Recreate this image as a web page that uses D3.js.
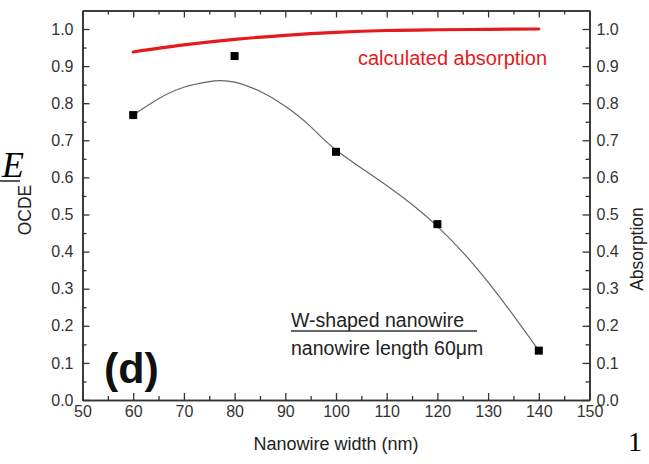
<!DOCTYPE html>
<html>
<head>
<meta charset="utf-8">
<script src="https://cdn.jsdelivr.net/npm/d3@7"></script>
<style>
  html, body { margin: 0; padding: 0; background: #fff; }
  svg { display: block; }
  text { font-family: "Liberation Sans", Arial, sans-serif; }
</style>
</head>
<body>
<script>
// Measured OCDE for each nanowire width (square markers)
const widths = [60, 80, 100, 120, 140];
const ocde = [0.768, 0.927, 0.669, 0.474, 0.133];

// Smooth fit through the OCDE points (thin gray curve)
const fitWidths = [60, 65, 70, 75, 77, 80, 85, 90, 95, 100, 110, 120, 130, 140];
const fitValues = [0.768, 0.812, 0.843, 0.858, 0.861, 0.857, 0.832, 0.792, 0.737, 0.674, 0.578, 0.468, 0.318, 0.133];

// Calculated absorption (right axis, red curve)
const absWidths = [60, 70, 80, 90, 100, 110, 120, 130, 140];
const absValues = [0.938, 0.957, 0.972, 0.983, 0.991, 0.996, 0.998, 0.999, 1.0];

// Tick values
const xTicks = [50, 60, 70, 80, 90, 100, 110, 120, 130, 140, 150];
const xMinor = [55, 65, 75, 85, 95, 105, 115, 125, 135, 145];
const yTicks = [0, 0.1, 0.2, 0.3, 0.4, 0.5, 0.6, 0.7, 0.8, 0.9, 1.0];
const yMinor = [0.05, 0.15, 0.25, 0.35, 0.45, 0.55, 0.65, 0.75, 0.85, 0.95];

const W = 649, H = 464;
const svg = d3.select("body").append("svg").attr("width", W).attr("height", H);

const x = d3.scaleLinear().domain([50, 150]).range([82.5, 589.5]);
const y = d3.scaleLinear().domain([0, 1.05]).range([400, 10.45]);
const yAbs = d3.scaleLinear().domain([0, 1.05]).range([400, 10.45]);

const axisColor = "#333";
const tickFont = "16px";
const fmt = d3.format(".1f");

function styleAxis(g) {
  g.selectAll("path.domain").attr("stroke", axisColor).attr("stroke-width", 1.6);
  g.selectAll(".tick line").attr("stroke", axisColor).attr("stroke-width", 1.3);
  g.selectAll(".tick text").attr("fill", "#333").style("font-size", tickFont)
    .style("font-family", "'Liberation Sans', Arial, sans-serif");
}

// Bottom axis: labels outside, ticks inward
const gB = svg.append("g").attr("transform", `translate(0,${y(0)})`)
  .call(d3.axisBottom(x).tickValues(xTicks).tickSizeInner(-7).tickSizeOuter(0).tickPadding(6).tickFormat(d3.format("d")));
styleAxis(gB);
const gBm = svg.append("g").attr("transform", `translate(0,${y(0)})`)
  .call(d3.axisBottom(x).tickValues(xMinor).tickSizeInner(-4).tickSizeOuter(0).tickFormat(""));
styleAxis(gBm);

// Top axis: ticks only
const gT = svg.append("g").attr("transform", `translate(0,${y.range()[1]})`)
  .call(d3.axisTop(x).tickValues(xTicks).tickSizeInner(-7).tickSizeOuter(0).tickFormat(""));
styleAxis(gT);
const gTm = svg.append("g").attr("transform", `translate(0,${y.range()[1]})`)
  .call(d3.axisTop(x).tickValues(xMinor).tickSizeInner(-4).tickSizeOuter(0).tickFormat(""));
styleAxis(gTm);

// Left axis (OCDE)
const gL = svg.append("g").attr("transform", `translate(${x(50)},0)`)
  .call(d3.axisLeft(y).tickValues(yTicks).tickSizeInner(-7).tickSizeOuter(0).tickPadding(9).tickFormat(fmt));
styleAxis(gL);
const gLm = svg.append("g").attr("transform", `translate(${x(50)},0)`)
  .call(d3.axisLeft(y).tickValues(yMinor).tickSizeInner(-4).tickSizeOuter(0).tickFormat(""));
styleAxis(gLm);

// Right axis (Absorption)
const gR = svg.append("g").attr("transform", `translate(${x(150)},0)`)
  .call(d3.axisRight(yAbs).tickValues(yTicks).tickSizeInner(-7).tickSizeOuter(0).tickPadding(7).tickFormat(fmt));
styleAxis(gR);
const gRm = svg.append("g").attr("transform", `translate(${x(150)},0)`)
  .call(d3.axisRight(yAbs).tickValues(yMinor).tickSizeInner(-4).tickSizeOuter(0).tickFormat(""));
styleAxis(gRm);

// Fitted OCDE curve
const fitLine = d3.line().x(d => x(d[0])).y(d => y(d[1])).curve(d3.curveNatural);
svg.append("path")
  .datum(fitWidths.map((w, i) => [w, fitValues[i]]))
  .attr("d", fitLine)
  .attr("fill", "none").attr("stroke", "#666").attr("stroke-width", 1.2);

// Calculated absorption
const absLine = d3.line().x(d => x(d[0])).y(d => yAbs(d[1])).curve(d3.curveCatmullRom.alpha(0.5));
svg.append("path")
  .datum(absWidths.map((w, i) => [w, absValues[i]]))
  .attr("d", absLine)
  .attr("fill", "none").attr("stroke", "#e41a1c").attr("stroke-width", 3.2)
  .attr("stroke-linecap", "round");

// Measured OCDE squares
const sq = 8;
svg.selectAll("rect.pt").data(widths.map((w, i) => [w, ocde[i]])).enter()
  .append("rect").attr("class", "pt")
  .attr("x", d => x(d[0]) - sq / 2).attr("y", d => y(d[1]) - sq / 2)
  .attr("width", sq).attr("height", sq).attr("fill", "#000");

// Annotations
svg.append("text").attr("x", 358).attr("y", 65)
  .attr("fill", "#e41a1c").style("font-size", "20px").text("calculated absorption");

svg.append("text").attr("x", 291).attr("y", 327)
  .attr("fill", "#222").style("font-size", "19.5px").text("W-shaped nanowire");
svg.append("line").attr("x1", 291).attr("x2", 477).attr("y1", 331).attr("y2", 331)
  .attr("stroke", "#333").attr("stroke-width", 1.3);
svg.append("text").attr("x", 291).attr("y", 355)
  .attr("fill", "#222").style("font-size", "19.5px").text("nanowire length 60μm");

svg.append("text").attr("x", 104).attr("y", 383)
  .attr("fill", "#111").style("font-size", "43px").style("font-weight", "bold").text("(d)");

// Axis titles
svg.append("text").attr("x", 336).attr("y", 450).attr("text-anchor", "middle")
  .attr("fill", "#222").style("font-size", "18px").text("Nanowire width (nm)");
svg.append("text").attr("transform", "translate(31,210) rotate(-90)").attr("text-anchor", "middle")
  .attr("fill", "#222").style("font-size", "17.5px").text("OCDE");
svg.append("text").attr("transform", "translate(643,249) rotate(-90)").attr("text-anchor", "middle")
  .attr("fill", "#222").style("font-size", "17.5px").text("Absorption");

// Page elements around the figure
svg.append("text").attr("x", 2).attr("y", 177)
  .style("font-family", "'Liberation Serif', 'Times New Roman', serif")
  .style("font-style", "italic").style("font-size", "36px").attr("fill", "#000").text("E");
svg.append("line").attr("x1", 0).attr("x2", 20).attr("y1", 181).attr("y2", 181)
  .attr("stroke", "#000").attr("stroke-width", 1.3);
svg.append("text").attr("x", 628).attr("y", 451)
  .style("font-family", "'Liberation Serif', 'Times New Roman', serif")
  .style("font-size", "28px").attr("fill", "#000").text("1");
</script>
</body>
</html>
